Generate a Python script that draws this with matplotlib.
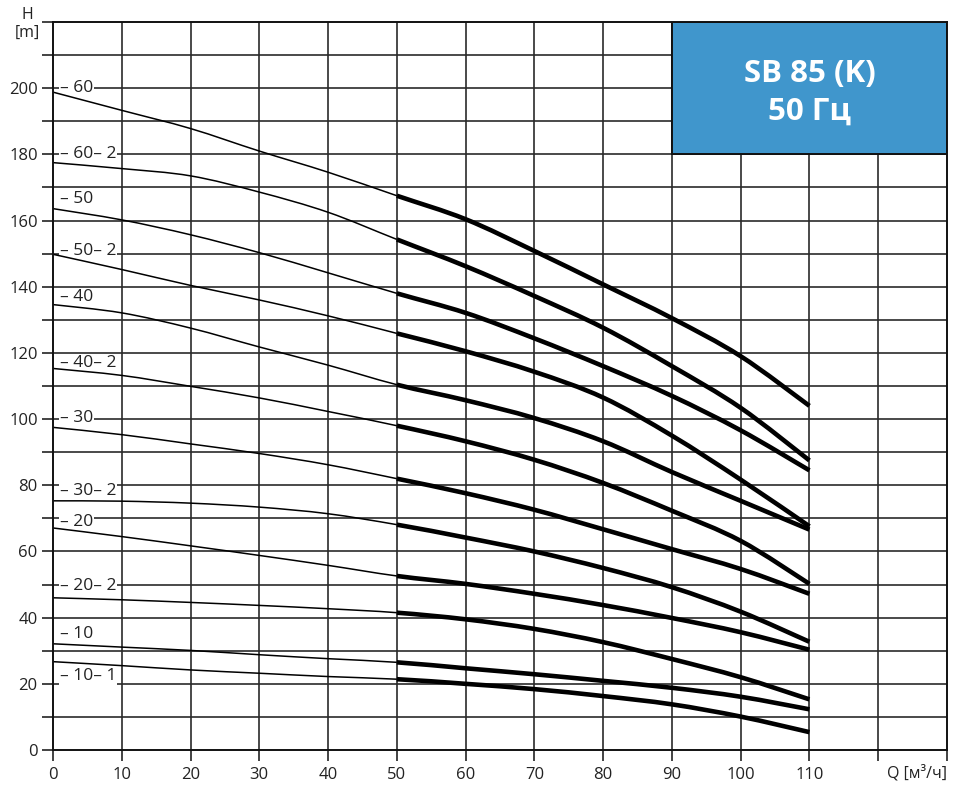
import matplotlib
matplotlib.use("Agg")
import matplotlib.pyplot as plt
from matplotlib.patches import Rectangle, PathPatch
from matplotlib.path import Path

plt.rcParams['font.family'] = ['Open Sans', 'DejaVu Sans']

flow = [0, 10, 20, 30, 40, 50, 60, 70, 80, 90, 100, 110]

curve_names = ["60", "60– 2", "50", "50– 2", "40", "40– 2",
               "30", "30– 2", "20", "20– 2", "10", "10– 1"]

h_60   = [198.8, 193.3, 187.8, 181.0, 174.6, 167.5, 160.4, 150.8, 140.7, 130.5, 119.0, 104.0]
h_60_2 = [177.5, 175.7, 173.5, 168.6, 162.5, 154.3, 146.2, 137.2, 127.6, 116.0, 103.4, 87.5]
h_50   = [163.6, 160.2, 155.7, 150.3, 144.2, 138.0, 132.1, 124.4, 116.0, 107.0, 96.6, 84.5]
h_50_2 = [149.8, 145.2, 140.4, 136.0, 131.2, 125.9, 120.5, 114.3, 106.5, 95.0, 81.7, 67.6]
h_40   = [134.6, 132.1, 127.5, 121.8, 116.3, 110.4, 105.7, 100.3, 93.3, 84.0, 75.3, 66.6]
h_40_2 = [115.3, 113.2, 109.9, 106.4, 102.3, 98.0, 93.3, 87.7, 80.7, 72.3, 63.2, 50.2]
h_30   = [97.5, 95.3, 92.5, 89.6, 86.2, 82.0, 77.6, 72.6, 66.7, 60.7, 54.7, 47.2]
h_30_2 = [75.3, 75.2, 74.6, 73.4, 71.4, 68.1, 64.2, 60.0, 55.0, 49.2, 41.8, 32.7]
h_20   = [67.1, 64.5, 61.7, 58.8, 55.8, 52.6, 50.2, 47.2, 43.8, 39.9, 35.6, 30.3]
h_20_2 = [46.0, 45.4, 44.6, 43.7, 42.7, 41.5, 39.5, 36.6, 32.6, 27.5, 22.0, 15.3]
h_10   = [32.1, 31.1, 30.1, 28.8, 27.6, 26.5, 24.7, 22.9, 20.9, 18.8, 16.1, 12.3]
h_10_1 = [26.7, 25.5, 24.2, 23.2, 22.2, 21.4, 20.0, 18.4, 16.3, 13.8, 10.1, 5.4]

curves = [h_60, h_60_2, h_50, h_50_2, h_40, h_40_2,
          h_30, h_30_2, h_20, h_20_2, h_10, h_10_1]

label_heights = [200, 180, 166.4, 150.7, 136.8, 117, 100.2, 78.4, 69, 49.6, 35.1, 22.4]

x_ticks = [0, 10, 20, 30, 40, 50, 60, 70, 80, 90, 100, 110]
y_ticks = [0, 20, 40, 60, 80, 100, 120, 140, 160, 180, 200]

title_text = "SB 85 (K)\n50 Гц"
x_unit = "Q [м³/ч]"
y_unit = "H\n[m]"

SPLIT_Q = 50


def smooth_path(xs, ys, i0, i1):
    """Catmull-Rom style bezier path through points i0..i1 (uses neighbours for tangents)."""
    n = len(xs)
    verts = [(xs[i0], ys[i0])]
    codes = [Path.MOVETO]
    for i in range(i0, i1):
        im = max(i - 1, 0)
        ip2 = min(i + 2, n - 1)
        c1 = (xs[i] + (xs[i + 1] - xs[im]) / 6.0, ys[i] + (ys[i + 1] - ys[im]) / 6.0)
        c2 = (xs[i + 1] - (xs[ip2] - xs[i]) / 6.0, ys[i + 1] - (ys[ip2] - ys[i]) / 6.0)
        verts += [c1, c2, (xs[i + 1], ys[i + 1])]
        codes += [Path.CURVE4] * 3
    return Path(verts, codes)


fig = plt.figure(figsize=(9.58, 7.88), dpi=100)
ax = fig.add_axes([0.0553, 0.0482, 0.9332, 0.9239])
ax.set_xlim(0, 130)
ax.set_ylim(0, 220)

grid_c = '#2a2a2a'
for gx in range(10, 130, 10):
    ax.axvline(gx, color=grid_c, lw=1.2, zorder=1)
for gy in range(10, 220, 10):
    ax.axhline(gy, color=grid_c, lw=1.2, zorder=1)

for sp in ax.spines.values():
    sp.set_color('#111111')
    sp.set_linewidth(1.4)
    sp.set_zorder(7)

ax.set_xticks(range(0, 131, 10))
ax.set_xticklabels([str(v) if v in x_ticks else "" for v in range(0, 131, 10)])
ax.set_yticks(range(0, 221, 10))
ax.set_yticklabels([str(v) if v in y_ticks else "" for v in range(0, 221, 10)])
ax.tick_params(axis='both', length=8, width=1.2, color='#222222',
               labelsize=12, labelcolor='#222222')
ax.tick_params(axis='x', pad=4)
ax.tick_params(axis='y', pad=3)

# blue title box
ax.add_patch(Rectangle((90, 180), 40, 40, facecolor='#4096CC',
                       edgecolor='#111111', lw=1.4, zorder=5))
ax.text(110, 198.6, title_text, color='white', fontsize=22.5, fontweight='bold',
        ha='center', va='center', linespacing=1.3, zorder=6)

# curves
split_i = flow.index(SPLIT_Q)
for h in curves:
    ax.add_patch(PathPatch(smooth_path(flow, h, 0, split_i), fill=False,
                           edgecolor='black', lw=1.1, zorder=3))
    ax.add_patch(PathPatch(smooth_path(flow, h, split_i, len(flow) - 1), fill=False,
                           edgecolor='black', lw=3.3, zorder=3,
                           capstyle='butt', joinstyle='round'))

for name, ly in zip(curve_names, label_heights):
    ax.text(1.0, ly, "– " + name, fontsize=12.5, color='#222222',
            ha='left', va='center', zorder=2,
            bbox=dict(facecolor='white', edgecolor='none', pad=0.5))

fig.text(947 / 958, 1 - 773 / 788, x_unit, fontsize=11.5, color='#222222',
         ha='right', va='center')
fig.text(27 / 958, 1 - 24 / 788, y_unit, fontsize=11.5, color='#222222',
         ha='center', va='center', linespacing=1.2)

fig.savefig("out.png", dpi=100)
